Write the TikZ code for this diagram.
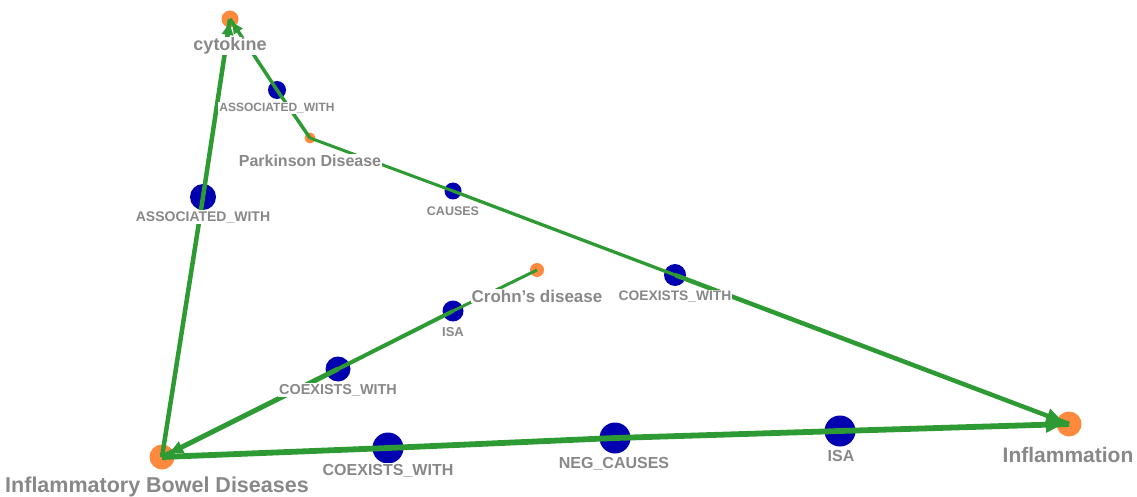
\documentclass[tikz,border=0pt]{standalone}
\usepackage{fontspec}
\setmainfont{Liberation Sans}
\usetikzlibrary{arrows.meta,decorations.markings}
\definecolor{entorange}{HTML}{FF8A3D}
\definecolor{relblue}{HTML}{0000B0}
\definecolor{edgegreen}{HTML}{2E9A34}
\definecolor{labgrey}{HTML}{888888}
\newcommand\lsz[1]{\fontsize{#1}{#1}\selectfont}
\tikzset{
  ent/.style={circle, fill=entorange, inner sep=0pt, minimum size=#1},
  rel/.style={circle, fill=relblue, inner sep=0pt, minimum size=#1},
  lab/.style={text=labgrey, font=\bfseries\lsz{#1}, fill=white, inner sep=1pt, anchor=center},
  edge/.style={draw=edgegreen, line width=#1},
  headed/.style n args={3}{postaction={decorate, decoration={markings,
      mark=at position -#1 with {\arrow[color=edgegreen]{Triangle[length=#2, width=#3]}}}}}
}
\begin{document}
\begin{tikzpicture}[x=1pt, y=-1pt]
\useasboundingbox (0,0) rectangle (1137,497);

% entities
\node[ent=17pt] (cyto)  at (230,19)  {};
\node[ent=11pt] (park)  at (310,138) {};
\node[ent=14pt] (crohn) at (537,270) {};
\node[ent=25pt] (ibd)   at (162,457) {};
\node[ent=25pt] (infl)  at (1069,424) {};

% relation points
\node[rel=18pt] (assocA) at (277,90)  {};
\node[rel=26pt] (assocB) at (203,197) {};
\node[rel=17pt] (causes) at (453,191) {};
\node[rel=22pt] (coexA)  at (675,275) {};
\node[rel=21pt] (isaA)   at (453,311) {};
\node[rel=25pt] (coexB)  at (338,369) {};
\node[rel=31pt] (coexC)  at (388,448) {};
\node[rel=31pt] (neg)    at (615,438) {};
\node[rel=31pt] (isaB)   at (840,431) {};

% connectors
\draw[edge=4.5pt] (ibd.center) -- (assocB.center);
\draw[edge=4.5pt, headed={4pt}{12pt}{11pt}] (assocB.center) -- (cyto.center);
\draw[edge=3.5pt] (park.center) -- (assocA.center);
\draw[edge=3.5pt, headed={4pt}{11pt}{10pt}] (assocA.center) -- (cyto.center);
\draw[edge=3pt] (park.center) -- (causes.center);
\draw[edge=3.3pt] (causes.center) -- (coexA.center);
\draw[edge=4.5pt, headed={6pt}{17pt}{14pt}] (coexA.center) -- (infl.center);
\draw[edge=3pt] (crohn.center) -- (isaA.center);
\draw[edge=4pt] (isaA.center) -- (coexB.center);
\draw[edge=5pt, headed={8pt}{14pt}{12pt}] (coexB.center) -- (ibd.center);
\draw[edge=5.8pt] (ibd.center) -- (coexC.center);
\draw[edge=5.8pt] (coexC.center) -- (neg.center);
\draw[edge=5.8pt] (neg.center) -- (isaB.center);
\draw[edge=5.8pt, headed={6pt}{17pt}{15pt}] (isaB.center) -- (infl.center);

% labels
\node[lab=18] (tcyto)  at (230,46)  {cytokine};
\node[lab=16] (tpark)  at (310,161) {Parkinson Disease};
\node[lab=17] (tcrohn) at (537,296) {Crohn's disease};
\node[lab=21] (tinfl)  at (1068,455) {Inflammation};
\node[lab=21.5] (tibd) at (157,487) {Inflammatory Bowel Diseases};

\node[lab=12]   (tassocA) at (277,108) {ASSOCIATED\_WITH};
\node[lab=14]   (tassocB) at (203,217) {ASSOCIATED\_WITH};
\node[lab=12.5] (tcauses) at (453,211) {CAUSES};
\node[lab=13.8] (tcoexA)  at (675,297) {COEXISTS\_WITH};
\node[lab=13]   (tisaA)   at (453,332) {ISA};
\node[lab=14.4] (tcoexB)  at (338,390) {COEXISTS\_WITH};
\node[lab=16]   (tcoexC)  at (388,471) {COEXISTS\_WITH};
\node[lab=16]   (tneg)    at (614,464) {NEG\_CAUSES};
\node[lab=16]   (tisaB)   at (841,456) {ISA};
\end{tikzpicture}
\end{document}
